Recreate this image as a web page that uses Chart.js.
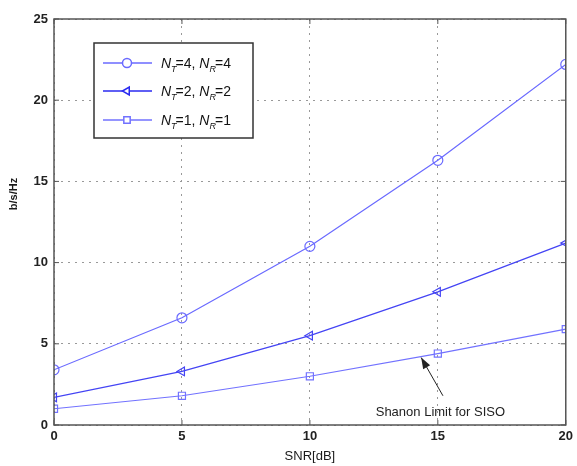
<!DOCTYPE html>
<html>
<head>
<meta charset="utf-8">
<script src="https://cdn.jsdelivr.net/npm/chart.js@4/dist/chart.umd.min.js"></script>
<style>
html,body{margin:0;padding:0;background:#fff;}
#c{display:block;}
</style>
</head>
<body>
<canvas id="c" width="577" height="466"></canvas>
<script>
const snr = [0, 5, 10, 15, 20];
const nt4 = [3.4, 6.6, 11.0, 16.3, 22.2];
const nt2 = [1.7, 3.3, 5.5, 8.2, 11.2];
const nt1 = [1.0, 1.8, 3.0, 4.4, 5.9];
const xTicks = [0, 5, 10, 15, 20];
const yTicks = [0, 5, 10, 15, 20, 25];
const seriesNames = [
  {n: '4', r: '4'},
  {n: '2', r: '2'},
  {n: '1', r: '1'}
];
const annotationText = 'Shanon Limit for SISO';
const arrowTip = {x: 14.35, y: 4.15};
const arrowTail = {x: 15.2, y: 1.8};
const labelPos = {x: 15.1, y: 0.8};
const xTitle = 'SNR[dB]';
const yTitle = 'b/s/Hz';

const colors = ['#6a6aff', '#4444f4', '#7272ff'];
const legendColors = ['#6a6aff', '#2a2af0', '#7272ff'];
const styles = ['circle', 'triangle', 'rect'];
const rotations = [0, 270, 0];
const datas = [nt4, nt2, nt1];

const datasets = datas.map((d, i) => ({
  label: 'NT=' + seriesNames[i].n + ', NR=' + seriesNames[i].r,
  data: snr.map((x, j) => ({x: x, y: d[j]})),
  borderColor: colors[i],
  backgroundColor: 'rgba(0,0,0,0)',
  borderWidth: 1.2,
  pointStyle: styles[i],
  pointRotation: rotations[i],
  pointRadius: 5,
  pointBorderWidth: 1.2,
  pointBorderColor: colors[i],
  pointBackgroundColor: 'rgba(0,0,0,0)',
  tension: 0
}));

const FONT = '"Liberation Sans", Arial, sans-serif';

const decor = {
  id: 'decor',
  beforeDraw(chart) {
    const ctx = chart.ctx;
    ctx.save();
    ctx.fillStyle = '#fff';
    ctx.fillRect(0, 0, chart.width, chart.height);
    ctx.restore();
  },
  afterDatasetsDraw(chart) {
    const ctx = chart.ctx;
    const a = chart.chartArea;
    const xs = chart.scales.x, ys = chart.scales.y;
    ctx.save();
    // box
    ctx.strokeStyle = '#555';
    ctx.lineWidth = 1.5;
    ctx.strokeRect(a.left, a.top, a.right - a.left, a.bottom - a.top);
    // inward ticks
    ctx.lineWidth = 1;
    ctx.strokeStyle = '#555';
    xTicks.forEach(v => {
      const px = xs.getPixelForValue(v);
      ctx.beginPath(); ctx.moveTo(px, a.bottom); ctx.lineTo(px, a.bottom - 5); ctx.stroke();
      ctx.beginPath(); ctx.moveTo(px, a.top); ctx.lineTo(px, a.top + 5); ctx.stroke();
    });
    yTicks.forEach(v => {
      const py = ys.getPixelForValue(v);
      ctx.beginPath(); ctx.moveTo(a.left, py); ctx.lineTo(a.left + 5, py); ctx.stroke();
      ctx.beginPath(); ctx.moveTo(a.right, py); ctx.lineTo(a.right - 5, py); ctx.stroke();
    });

    // axis titles
    ctx.fillStyle = '#1a1a1a';
    ctx.font = '13px ' + FONT;
    ctx.textAlign = 'center';
    ctx.textBaseline = 'middle';
    ctx.fillText(xTitle, (a.left + a.right) / 2, 456);
    ctx.save();
    ctx.translate(14, 194);
    ctx.rotate(-Math.PI / 2);
    ctx.font = 'bold 11px ' + FONT;
    ctx.fillText(yTitle, 0, 0);
    ctx.restore();

    // annotation
    const tx = xs.getPixelForValue(arrowTip.x), ty = ys.getPixelForValue(arrowTip.y);
    const sx = xs.getPixelForValue(arrowTail.x), sy = ys.getPixelForValue(arrowTail.y);
    ctx.strokeStyle = '#222';
    ctx.fillStyle = '#222';
    ctx.lineWidth = 1;
    ctx.beginPath(); ctx.moveTo(sx, sy); ctx.lineTo(tx, ty); ctx.stroke();
    const ang = Math.atan2(ty - sy, tx - sx);
    const hl = 11, hw = 4;
    ctx.beginPath();
    ctx.moveTo(tx, ty);
    ctx.lineTo(tx - hl * Math.cos(ang) + hw * Math.sin(ang), ty - hl * Math.sin(ang) - hw * Math.cos(ang));
    ctx.lineTo(tx - hl * Math.cos(ang) - hw * Math.sin(ang), ty - hl * Math.sin(ang) + hw * Math.cos(ang));
    ctx.closePath(); ctx.fill();
    ctx.font = '13px ' + FONT;
    ctx.textAlign = 'center';
    ctx.textBaseline = 'middle';
    ctx.fillText(annotationText, xs.getPixelForValue(labelPos.x), ys.getPixelForValue(labelPos.y));

    // legend
    const lx = 94, ly = 43, lw = 159, lh = 95;
    ctx.fillStyle = '#fff';
    ctx.fillRect(lx, ly, lw, lh);
    ctx.strokeStyle = '#333';
    ctx.lineWidth = 1.5;
    ctx.strokeRect(lx, ly, lw, lh);
    const rowsY = [63, 91, 120];
    chart.data.datasets.forEach((ds, i) => {
      const y = rowsY[i];
      ctx.strokeStyle = legendColors[i];
      ctx.lineWidth = 1.5;
      ctx.beginPath(); ctx.moveTo(103, y); ctx.lineTo(152, y); ctx.stroke();
      ctx.fillStyle = '#fff';
      Chart.helpers.drawPoint(ctx, {pointStyle: ds.pointStyle, rotation: ds.pointRotation, radius: 4.5, borderWidth: 1.5}, 127, y);
      ctx.fillStyle = '#111';
      ctx.textAlign = 'left';
      ctx.textBaseline = 'alphabetic';
      let x = 161;
      const base = y + 5;
      const parts = [
        ['italic 14px ' + FONT, 'N', 0],
        ['italic 9px ' + FONT, 'T', 4],
        ['14px ' + FONT, '=' + seriesNames[i].n + ', ', 0],
        ['italic 14px ' + FONT, 'N', 0],
        ['italic 9px ' + FONT, 'R', 4],
        ['14px ' + FONT, '=' + seriesNames[i].r, 0]
      ];
      parts.forEach(p => {
        ctx.font = p[0];
        ctx.fillText(p[1], x, base + p[2]);
        x += ctx.measureText(p[1]).width - (p[2] ? 1 : 0);
      });
    });
    ctx.restore();
  }
};

new Chart(document.getElementById('c'), {
  type: 'line',
  data: {datasets: datasets},
  options: {
    responsive: false,
    animation: false,
    devicePixelRatio: 1,
    layout: {padding: {left: 0, right: 10, top: 19, bottom: 0}},
    plugins: {legend: {display: false}, tooltip: {enabled: false}},
    scales: {
      x: {
        type: 'linear',
        min: 0, max: 20,
        afterFit: s => { s.height = 41; },
        afterBuildTicks: s => { s.ticks = xTicks.map(v => ({value: v})); },
        ticks: {color: '#222', font: {family: FONT, size: 13, weight: 'bold'}, padding: 4, maxRotation: 0},
        grid: {color: '#999', lineWidth: 1, drawTicks: false},
        border: {display: false, dash: [2, 5]}
      },
      y: {
        type: 'linear',
        min: 0, max: 25,
        afterFit: s => { s.width = 54; },
        afterBuildTicks: s => { s.ticks = yTicks.map(v => ({value: v})); },
        ticks: {color: '#222', font: {family: FONT, size: 13, weight: 'bold'}, padding: 6},
        grid: {color: '#999', lineWidth: 1, drawTicks: false},
        border: {display: false, dash: [2, 5]}
      }
    }
  },
  plugins: [decor]
});
</script>
</body>
</html>
